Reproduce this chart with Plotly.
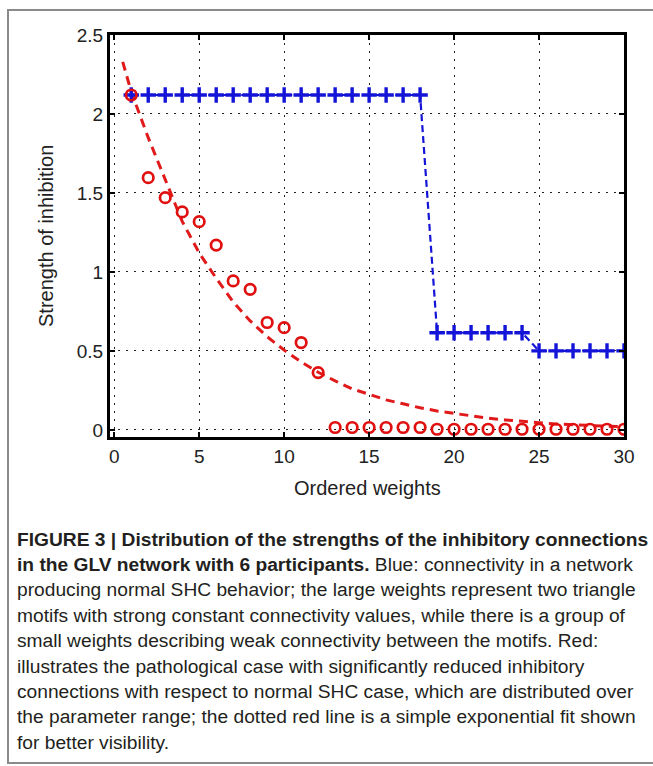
import plotly.graph_objects as go

# ---------------- data ----------------
blue_x = list(range(1, 31))
blue_y = [2.12] * 18 + [0.615] * 6 + [0.50] * 6

red_x = list(range(1, 31))
red_y = [2.12, 1.597, 1.47, 1.38, 1.318, 1.17, 0.943, 0.89, 0.68, 0.647,
         0.553, 0.363, 0.015, 0.015, 0.015, 0.015, 0.015, 0.015,
         0.004, 0.004, 0.004, 0.004, 0.004, 0.004, 0.004, 0.004, 0.004, 0.004, 0.004, 0.004]

fit_x = [0.5, 1, 2, 3, 4, 5, 6, 7, 8, 9, 10, 11, 12, 13, 14, 15, 16, 17, 18, 19, 20,
         21, 22, 23, 24, 25, 26, 27, 28, 29, 30]
fit_y = [2.33, 2.14, 1.85, 1.58, 1.32, 1.12, 0.96, 0.81, 0.69, 0.59, 0.505, 0.43, 0.365,
         0.31, 0.26, 0.225, 0.19, 0.165, 0.14, 0.12, 0.105, 0.088, 0.074, 0.063, 0.053,
         0.045, 0.038, 0.032, 0.027, 0.023, 0.02]

x_ticks = [0, 5, 10, 15, 20, 25, 30]
y_ticks = [0, 0.5, 1, 1.5, 2, 2.5]
y_tick_text = ["0", "0.5", "1", "1.5", "2", "2.5"]

caption_lines = [
    "<b>FIGURE 3 | Distribution of the strengths of the inhibitory connections</b>",
    "<b>in the GLV network with 6 participants.</b> Blue: connectivity in a network",
    "producing normal SHC behavior; the large weights represent two triangle",
    "motifs with strong constant connectivity values, while there is a group of",
    "small weights describing weak connectivity between the motifs. Red:",
    "illustrates the pathological case with significantly reduced inhibitory",
    "connections with respect to normal SHC case, which are distributed over",
    "the parameter range; the dotted red line is a simple exponential fit shown",
    "for better visibility.",
]

# ---------------- layout geometry (pixels) ----------------
W, H = 653, 766
L, R, T, B = 110, 624, 35, 437


def px(x):
    return (x - L) / (R - L)


def py(y):
    return (B - y) / (B - T)


FONT = "Liberation Sans, Arial, Helvetica, sans-serif"

fig = go.Figure()

fig.add_trace(go.Scatter(
    x=fit_x, y=fit_y, mode="lines",
    line=dict(color="#e01a1a", width=3, dash="9px,6px"),
    hoverinfo="skip", showlegend=False))

fig.add_trace(go.Scatter(
    x=blue_x, y=blue_y, mode="lines+markers",
    line=dict(color="#1414d8", width=2.2, dash="7px,4px"),
    marker=dict(symbol="cross-thin", size=11, line=dict(color="#1414d8", width=3.4)),
    showlegend=False))

fig.add_trace(go.Scatter(
    x=red_x, y=red_y, mode="markers",
    marker=dict(symbol="circle-open", size=10.5, color="#e01010",
                line=dict(color="#e01010", width=2.7)),
    showlegend=False))

axis_common = dict(
    showline=True, linecolor="black", linewidth=3, mirror="allticks",
    ticks="inside", ticklen=5, tickwidth=2, tickcolor="black",
    showgrid=True, gridcolor="#222222", gridwidth=1, griddash="1.5px,6.5px",
    zeroline=False,
    tickfont=dict(family=FONT, size=19, color="#222222"),
)

fig.update_xaxes(range=[-0.25, 30.0], tickvals=x_ticks, **axis_common)
fig.update_yaxes(range=[-0.045, 2.5], tickvals=y_ticks, ticktext=y_tick_text, **axis_common)

annotations = [
    dict(text="Ordered weights", x=px(367), y=py(488), xref="paper", yref="paper",
         showarrow=False, xanchor="center", yanchor="middle",
         font=dict(family=FONT, size=20, color="#222222")),
    dict(text="Strength of inhibition", x=px(46), y=py(236), xref="paper", yref="paper",
         showarrow=False, xanchor="center", yanchor="middle", textangle=-90,
         font=dict(family=FONT, size=20, color="#222222")),
]

y0 = 539
dy = 25.4
for i, line in enumerate(caption_lines):
    annotations.append(dict(
        text=line, x=px(15), y=py(y0 + i * dy), xref="paper", yref="paper",
        showarrow=False, xanchor="left", yanchor="middle", align="left",
        font=dict(family=FONT, size=19.2, color="#231f20")))

shapes = [
    dict(type="rect", xref="paper", yref="paper",
         x0=px(8), x1=px(680), y0=py(10), y1=py(763),
         line=dict(color="#8a8a8a", width=2), fillcolor="rgba(0,0,0,0)", layer="below"),
]

fig.update_layout(
    width=W, height=H,
    margin=dict(l=L, r=W - R, t=T, b=H - B),
    paper_bgcolor="white", plot_bgcolor="white",
    annotations=annotations, shapes=shapes,
    showlegend=False,
)

fig.write_html("out.html")
